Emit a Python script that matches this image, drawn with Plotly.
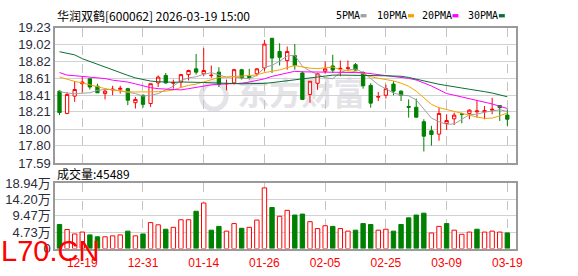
import plotly.graph_objects as go

# ---------------- data ----------------
dates = ["12-16","12-17","12-18","12-19","12-22","12-23","12-24","12-25","12-26","12-29","12-30","12-31",
         "01-05","01-06","01-07","01-08","01-09","01-12","01-13","01-14","01-15","01-16","01-19","01-20",
         "01-21","01-22","01-23","01-26","01-27","01-28","01-29","01-30","02-02","02-03","02-04","02-05",
         "02-06","02-09","02-10","02-11","02-12","02-13","02-24","02-25","02-26","02-27","03-02","03-03",
         "03-04","03-05","03-06","03-09","03-10","03-11","03-12","03-13","03-16","03-17","03-18","03-19"]

opens = [18.46, 18.19, 18.40, 18.55, 18.61, 18.52, 18.43, 18.475, 18.483, 18.49,
         18.32, 18.41, 18.31, 18.56, 18.65, 18.555, 18.57, 18.66, 18.73, 18.67,
         18.648, 18.69, 18.548, 18.56, 18.72, 18.64, 18.67, 18.74, 19.10, 18.94,
         18.83, 18.89, 18.68, 18.42, 18.555, 18.70, 18.765, 18.728, 18.735, 18.78,
         18.685, 18.53, 18.387, 18.41, 18.545, 18.46, 18.275, 18.265, 18.09, 17.98,
         17.94, 18.07, 18.125, 18.185, 18.19, 18.21, 18.21, 18.23, 18.285, 18.17]
highs = [18.47, 18.45, 18.58, 18.64, 18.61, 18.55, 18.49, 18.525, 18.525, 18.50,
         18.39, 18.42, 18.55, 18.65, 18.68, 18.60, 18.67, 18.72, 18.91, 18.98,
         18.77, 18.75, 18.60, 18.73, 18.73, 18.73, 18.74, 19.08, 19.10, 19.04,
         19.00, 19.03, 18.70, 18.58, 18.68, 18.82, 18.90, 18.83, 18.83, 18.80,
         18.70, 18.555, 18.45, 18.54, 18.58, 18.47, 18.36, 18.37, 18.12, 18.04,
         18.26, 18.18, 18.20, 18.20, 18.24, 18.35, 18.28, 18.38, 18.29, 18.24]
lows = [18.17, 18.18, 18.33, 18.44, 18.48, 18.44, 18.36, 18.41, 18.43, 18.29,
        18.25, 18.26, 18.27, 18.51, 18.55, 18.49, 18.50, 18.59, 18.66, 18.64,
        18.62, 18.51, 18.47, 18.54, 18.60, 18.60, 18.64, 18.70, 18.68, 18.77,
        18.72, 18.72, 18.36, 18.32, 18.475, 18.67, 18.68, 18.64, 18.70, 18.71,
        18.49, 18.26, 18.34, 18.37, 18.41, 18.34, 18.14, 18.14, 17.73, 17.80,
        17.86, 17.99, 18.05, 18.07, 18.12, 18.14, 18.12, 18.18, 18.10, 18.04]
closes = [18.20, 18.42, 18.48, 18.57, 18.51, 18.44, 18.46, 18.483, 18.494, 18.35,
          18.36, 18.30, 18.55, 18.63, 18.56, 18.565, 18.66, 18.71, 18.69, 18.71,
          18.652, 18.54, 18.553, 18.72, 18.62, 18.625, 18.73, 19.03, 18.86, 18.87,
          18.94, 18.77, 18.36, 18.58, 18.67, 18.73, 18.715, 18.735, 18.742, 18.715,
          18.525, 18.315, 18.395, 18.49, 18.46, 18.41, 18.265, 18.145, 17.915, 17.935,
          18.19, 18.105, 18.17, 18.18, 18.23, 18.22, 18.225, 18.24, 18.26, 18.12]

ma5 = [18.456, 18.437, 18.43, 18.437, 18.44, 18.47, 18.48, 18.479, 18.463, 18.448,
       18.43, 18.40, 18.41, 18.43, 18.48, 18.52, 18.59, 18.62, 18.634, 18.664,
       18.684, 18.66, 18.629, 18.635, 18.617, 18.612, 18.65, 18.745, 18.773, 18.823,
       18.886, 18.894, 18.76, 18.704, 18.664, 18.622, 18.611, 18.686, 18.718, 18.727,
       18.686, 18.606, 18.538, 18.488, 18.437, 18.414, 18.404, 18.354, 18.239, 18.134,
       18.09, 18.058, 18.063, 18.116, 18.175, 18.181, 18.205, 18.219, 18.235, 18.213]
ma10 = [18.631, 18.601, 18.578, 18.559, 18.536, 18.509, 18.491, 18.475, 18.460, 18.452,
        18.450, 18.449, 18.450, 18.453, 18.460, 18.475, 18.505, 18.530, 18.545, 18.574,
        18.601, 18.625, 18.630, 18.635, 18.640, 18.645, 18.656, 18.684, 18.700, 18.717,
        18.745, 18.770, 18.753, 18.738, 18.733, 18.747, 18.752, 18.720, 18.708, 18.696,
        18.670, 18.635, 18.616, 18.602, 18.584, 18.556, 18.520, 18.460, 18.375, 18.300,
        18.260, 18.237, 18.214, 18.191, 18.162, 18.147, 18.130, 18.134, 18.162, 18.197]
ma20 = [18.685, 18.654, 18.647, 18.639, 18.632, 18.624, 18.612, 18.593, 18.582, 18.570,
        18.548, 18.525, 18.502, 18.490, 18.487, 18.483, 18.475, 18.490, 18.506, 18.525,
        18.536, 18.544, 18.548, 18.551, 18.555, 18.570, 18.590, 18.609, 18.639, 18.662,
        18.677, 18.700, 18.694, 18.694, 18.692, 18.691, 18.689, 18.689, 18.686, 18.685,
        18.683, 18.672, 18.666, 18.654, 18.643, 18.634, 18.614, 18.595, 18.563, 18.523,
        18.477, 18.431, 18.411, 18.391, 18.368, 18.351, 18.328, 18.305, 18.277, 18.250]
ma30 = [18.937, 18.918, 18.899, 18.853, 18.818, 18.784, 18.751, 18.718, 18.685, 18.651,
        18.620, 18.597, 18.582, 18.574, 18.570, 18.567, 18.571, 18.571, 18.569, 18.565,
        18.561, 18.556, 18.551, 18.549, 18.549, 18.551, 18.551, 18.554, 18.563, 18.574,
        18.586, 18.597, 18.609, 18.620, 18.637, 18.649, 18.654, 18.654, 18.654, 18.654,
        18.654, 18.654, 18.651, 18.646, 18.643, 18.640, 18.626, 18.603, 18.586, 18.563,
        18.543, 18.528, 18.509, 18.498, 18.483, 18.471, 18.454, 18.437, 18.414, 18.392]

# volume in 万 (10k) shares
volumes = [6.98, 5.53, 4.24, 4.79, 3.97, 3.42, 3.42, 3.69, 3.97, 5.06,
           3.69, 4.24, 7.53, 6.89, 5.61, 6.16, 8.35, 8.35, 10.81, 13.19,
           5.34, 6.43, 5.06, 7.25, 5.88, 6.16, 8.26, 17.57, 11.90, 9.36,
           11.08, 9.72, 9.99, 7.80, 5.80, 6.62, 6.43, 5.80, 5.06, 5.34,
           7.25, 6.98, 5.34, 5.61, 5.06, 6.98, 8.90, 9.72, 10.26, 4.52,
           6.43, 7.25, 5.34, 4.15, 4.79, 5.61, 4.79, 5.06, 4.79, 4.5489]

x_tick_labels = ["12-19", "12-31", "01-14", "01-26", "02-05", "02-25", "03-09", "03-19"]
price_tick_labels = ["19.23", "19.02", "18.82", "18.61", "18.41", "18.21", "18.00", "17.80", "17.59"]
vol_tick_labels = ["0", "4.73万", "9.47万", "14.20万", "18.94万"]
vol_tick_values = [0, 4.73, 9.47, 14.20, 18.94]

title_text = "华润双鹤[600062] 2026-03-19 15:00"
ma_names = ["5PMA", "10PMA", "20PMA", "30PMA"]

# ---------------- style ----------------
W, H = 578, 276
RED = "#ff0000"
GREEN = "#008000"
MA_COLORS = ["#a0a0a0", "#f5a300", "#ff00ff", "#0b6e35"]
GRID = "#d2d2d2"
FRAME = "#9a9a9a"
NUM_FONT = "Liberation Sans, Arial, Noto Sans CJK SC, sans-serif"
CJK_FONT = "Noto Sans CJK SC, Liberation Sans, sans-serif"

def fx(px):
    return px / W

def fy(py):
    return 1 - py / H

X_DOM = [fx(56), fx(522)]
Y1_DOM = [fy(165), fy(21.7)]
Y2_DOM = [fy(255.5), fy(186.3)]
X_RANGE = [-0.55, 60.1]

fig = go.Figure()

fig.add_trace(go.Candlestick(
    x=dates, open=opens, high=highs, low=lows, close=closes,
    increasing=dict(line=dict(color=RED, width=1), fillcolor="white"),
    decreasing=dict(line=dict(color=GREEN, width=1), fillcolor=GREEN),
    whiskerwidth=0, xaxis="x", yaxis="y", hoverinfo="skip",
))

for series, color in zip([ma5, ma10, ma20, ma30], MA_COLORS):
    fig.add_trace(go.Scatter(x=dates, y=series, mode="lines",
                             line=dict(color=color, width=1),
                             xaxis="x", yaxis="y", hoverinfo="skip"))

# volume colour: up vs previous close (first bar follows its candle)
vol_up = [closes[0] > opens[0]] + [closes[i] > closes[i - 1] for i in range(1, len(closes))]
fig.add_trace(go.Bar(
    x=dates, y=volumes, width=0.58,
    marker=dict(color=["white" if u else GREEN for u in vol_up],
                line=dict(color=[RED if u else GREEN for u in vol_up], width=1)),
    xaxis="x2", yaxis="y2", hoverinfo="skip",
))

axis_common = dict(showline=True, mirror=True, linecolor=FRAME, linewidth=2,
                   zeroline=False, ticks="", fixedrange=True)

fig.update_layout(
    width=W, height=H,
    margin=dict(l=0, r=0, t=0, b=0),
    paper_bgcolor="white", plot_bgcolor="white",
    showlegend=False, boxgap=0.38,
    xaxis=dict(domain=X_DOM, anchor="y", type="category", range=X_RANGE,
               categoryorder="array", categoryarray=dates,
               tickvals=x_tick_labels, showticklabels=False,
               showgrid=True, gridcolor="#c4c4c4", griddash="dash", gridwidth=1,
               rangeslider=dict(visible=False), **axis_common),
    yaxis=dict(domain=Y1_DOM, anchor="x", range=[17.59, 19.23],
               tickvals=[float(t) for t in price_tick_labels], ticktext=price_tick_labels,
               showgrid=True, gridcolor=GRID, gridwidth=1,
               tickfont=dict(family=NUM_FONT, size=13, color="#2b2b3a"),
               **axis_common),
    xaxis2=dict(domain=X_DOM, anchor="y2", type="category", range=X_RANGE,
                categoryorder="array", categoryarray=dates,
                tickvals=x_tick_labels, ticktext=x_tick_labels,
                showgrid=True, gridcolor="#c4c4c4", griddash="dash", gridwidth=1,
                tickfont=dict(family=NUM_FONT, size=12, color=RED),
                ticklabelstandoff=2,
                **axis_common),
    yaxis2=dict(domain=Y2_DOM, anchor="x2", range=[0, 18.94],
                tickvals=vol_tick_values, ticktext=vol_tick_labels,
                showgrid=True, gridcolor=GRID, gridwidth=1,
                tickfont=dict(family=NUM_FONT, size=13, color="#2b2b3a"),
                **axis_common),
)

P = dict(xref="paper", yref="paper", showarrow=False)
annotations = [
    dict(text=title_text, x=fx(56), y=fy(8.5), xanchor="left", yanchor="middle",
         font=dict(family=CJK_FONT, size=12, color="#000"), **P),
    dict(text="成交量:" + str(round(volumes[-1] * 10000)), x=fx(56), y=fy(176.5),
         xanchor="left", yanchor="middle", font=dict(family=CJK_FONT, size=12, color="#000"), **P),
    dict(text="L70.CN", x=fx(-1), y=fy(258), xanchor="left", yanchor="middle",
         font=dict(family=NUM_FONT, size=29, color=RED), **P),
]
legend_x = [338, 380, 425.5, 471.5]
mark_x = [365, 413, 458, 505]
shapes = []
for name, lx, mx, color in zip(ma_names, legend_x, mark_x, MA_COLORS):
    annotations.append(dict(text=name, x=fx(lx), y=fy(9), xanchor="left", yanchor="middle",
                            font=dict(family="DejaVu Sans Mono, monospace", size=10, color="#000"), **P))
    shapes.append(dict(type="rect", xref="paper", yref="paper",
                       x0=fx(mx), x1=fx(mx + 6), y0=fy(11), y1=fy(7.5),
                       fillcolor=color, line=dict(width=0)))

# watermark (below data)
shapes.append(dict(type="rect", xref="paper", yref="paper", layer="below",
                   x0=fx(238), x1=fx(372), y0=fy(111), y1=fy(77),
                   fillcolor="rgba(0,0,0,0)", line=dict(width=0),
                   label=dict(text="东方财富", textposition="middle center",
                              font=dict(family=CJK_FONT, size=32, color="#e3e3e8", weight="bold"))))
shapes.append(dict(type="circle", xref="paper", yref="paper", layer="below",
                   x0=fx(204), x1=fx(229), y0=fy(108), y1=fy(80),
                   line=dict(color="#e3e3e8", width=5)))

fig.update_layout(annotations=annotations, shapes=shapes)

fig.write_html("out.html")
